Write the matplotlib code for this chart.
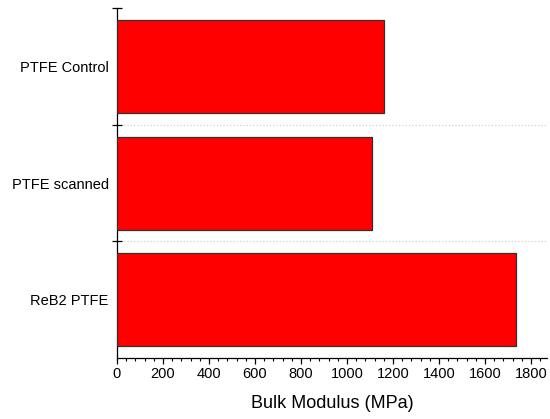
import matplotlib
matplotlib.use("Agg")
import matplotlib.pyplot as plt
from matplotlib.ticker import MultipleLocator, FixedLocator

plt.rcParams['font.family'] = ['Liberation Sans', 'DejaVu Sans']

samples = ['PTFE Control', 'PTFE scanned', 'ReB2 PTFE']
bulk_modulus = [1160, 1108, 1736]  # MPa

fig = plt.figure(figsize=(5.5, 4.19), dpi=100)
ax = fig.add_axes([0.2127, 0.1456, 0.7813, 0.8345])

# top category first
pos = list(range(len(samples)))[::-1]
ax.barh(pos, bulk_modulus, height=0.8, color='#ff0000',
        edgecolor='#303030', linewidth=0.9, zorder=3)

ax.set_xlim(0, 1868)
ax.set_ylim(-0.5, len(samples) - 0.5)

ax.xaxis.set_major_locator(MultipleLocator(200))
ax.xaxis.set_minor_locator(MultipleLocator(40))
ax.tick_params(axis='x', which='major', direction='out', length=4.5, width=0.9,
               labelsize=10.5, pad=2)
ax.tick_params(axis='x', which='minor', direction='out', length=2.5, width=0.8)

ax.set_yticks(pos)
ax.set_yticklabels(samples)
ax.yaxis.set_minor_locator(FixedLocator([p + 0.5 for p in range(len(samples))]))
ax.tick_params(axis='y', which='major', length=0, labelsize=10.5, pad=6)
ax.tick_params(axis='y', which='minor', direction='inout', length=7, width=0.9)

# dotted separators between categories only
for p in range(len(samples) - 1):
    ax.axhline(p + 0.5, linestyle=':', color='#d0d0d0', linewidth=0.9, zorder=0)

for s in ['top', 'right']:
    ax.spines[s].set_visible(False)
for s in ['left', 'bottom']:
    ax.spines[s].set_linewidth(0.9)

ax.set_xlabel('Bulk Modulus (MPa)', fontsize=13, labelpad=10)

fig.savefig('out.png', dpi=100)
